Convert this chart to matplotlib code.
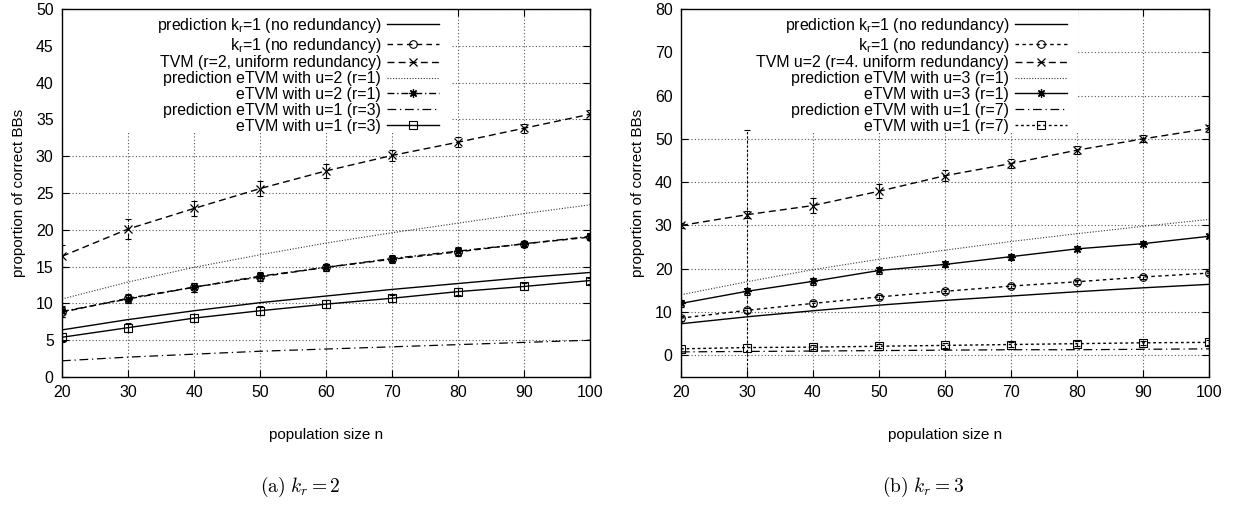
import matplotlib
matplotlib.use("Agg")
import matplotlib.pyplot as plt
from matplotlib.patches import Rectangle

plt.rcParams["font.family"] = ["Liberation Sans", "DejaVu Sans"]
plt.rcParams["mathtext.fontset"] = "custom"
plt.rcParams["mathtext.rm"] = "Liberation Sans"
plt.rcParams["mathtext.it"] = "Liberation Sans:italic"

n = [20, 30, 40, 50, 60, 70, 80, 90, 100]

# (a) k_r = 2
pred_kr1_a = [6.4, 7.8, 9.0, 10.1, 11.0, 11.9, 12.7, 13.5, 14.2]
kr1_a = [8.8, 10.7, 12.2, 13.6, 14.9, 16.0, 17.0, 18.1, 19.0]
kr1_a_err = [0.7, 0.6, 0.6, 0.5, 0.5, 0.5, 0.5, 0.4, 0.4]
tvm_a = [16.4, 20.1, 22.9, 25.6, 28.0, 30.1, 31.9, 33.8, 35.7]
tvm_a_err = [1.5, 1.3, 1.0, 1.0, 0.9, 0.8, 0.7, 0.6, 0.6]
pred_u2_a = [10.6, 12.9, 14.9, 16.6, 18.2, 19.6, 20.9, 22.2, 23.4]
etvm_u2_a = [8.9, 10.6, 12.2, 13.7, 14.9, 16.1, 17.1, 18.1, 19.1]
etvm_u2_a_err = [0.7, 0.6, 0.6, 0.6, 0.5, 0.5, 0.5, 0.4, 0.4]
pred_u1_a = [2.2, 2.7, 3.1, 3.5, 3.8, 4.1, 4.4, 4.7, 5.0]
etvm_u1_a = [5.4, 6.7, 8.0, 9.0, 9.9, 10.7, 11.6, 12.3, 13.1]
etvm_u1_a_err = [0.6, 0.6, 0.5, 0.6, 0.5, 0.5, 0.5, 0.5, 0.4]

# (b) k_r = 3
pred_kr1_b = [7.3, 8.9, 10.3, 11.6, 12.7, 13.7, 14.7, 15.6, 16.4]
kr1_b = [8.6, 10.4, 12.0, 13.5, 14.8, 16.0, 17.0, 18.1, 19.0]
kr1_b_err = [0.6, 0.6, 0.6, 0.5, 0.5, 0.5, 0.5, 0.4, 0.4]
tvm_b = [30.0, 32.5, 34.6, 37.9, 41.5, 44.3, 47.4, 50.0, 52.4]
tvm_b_err = [0.5, 0.8, 1.8, 1.6, 1.2, 1.0, 0.9, 0.8, 0.8]
pred_u3_b = [14.0, 17.0, 19.8, 22.2, 24.3, 26.3, 28.1, 29.8, 31.4]
etvm_u3_b = [12.0, 14.8, 17.1, 19.6, 21.0, 22.8, 24.6, 25.8, 27.5]
etvm_u3_b_err = [0.9, 0.8, 0.8, 0.7, 0.7, 0.7, 0.6, 0.5, 0.5]
pred_u1_b = [0.8, 0.9, 1.0, 1.1, 1.2, 1.3, 1.3, 1.4, 1.5]
etvm_u1_b = [1.5, 1.8, 1.9, 2.1, 2.3, 2.5, 2.7, 2.9, 3.0]
etvm_u1_b_err = [48.5, 50.3, 0.5, 0.5, 0.5, 0.5, 0.5, 0.5, 0.5]

labels_a = [
    r"prediction k$_\mathrm{r}$=1 (no redundancy)",
    r"k$_\mathrm{r}$=1 (no redundancy)",
    "TVM (r=2, uniform redundancy)",
    "prediction eTVM with u=2 (r=1)",
    "eTVM with u=2 (r=1)",
    "prediction eTVM with u=1 (r=3)",
    "eTVM with u=1 (r=3)",
]
labels_b = [
    r"prediction k$_\mathrm{r}$=1 (no redundancy)",
    r"k$_\mathrm{r}$=1 (no redundancy)",
    "TVM u=2 (r=4. uniform redundancy)",
    "prediction eTVM with u=3 (r=1)",
    "eTVM with u=3 (r=1)",
    "prediction eTVM with u=1 (r=7)",
    "eTVM with u=1 (r=7)",
]

ASTER = (8, 2, 0)


def with_err(ax, y, err, ls, label, **mk):
    line, = ax.plot(n, y, color="black", lw=1.0, linestyle=ls, label=label, **mk)
    eb = ax.errorbar(n, y, yerr=err, fmt="none", ecolor="black", elinewidth=0.8,
                     capsize=2.5, capthick=0.8)
    for bl in eb[2]:
        bl.set_linestyle(ls)
    return line


def draw_panel(ax, series, labels, styles, ylim, yticks, legend_right, box_right):
    (pred_kr1, kr1, kr1_err, tvm, tvm_err, pred_mid, etvm_mid, etvm_mid_err,
     pred_low, etvm_low, etvm_low_err) = series
    h = []
    h.append(ax.plot(n, pred_kr1, color="black", lw=1.0, label=labels[0])[0])
    h.append(with_err(ax, kr1, kr1_err, styles[0], labels[1],
                      marker="o", ms=5.5, mfc="none", mew=0.8))
    h.append(with_err(ax, tvm, tvm_err, (0, (5, 3)), labels[2],
                      marker="x", ms=6, mew=0.9))
    h.append(ax.plot(n, pred_mid, color="#333333", lw=0.8, linestyle=(0, (1, 1.5)),
                     label=labels[3])[0])
    h.append(with_err(ax, etvm_mid, etvm_mid_err, styles[1], labels[4],
                      marker=ASTER, ms=6, mew=0.9))
    h.append(ax.plot(n, pred_low, color="black", lw=0.9, linestyle=(0, (7, 3, 1, 3)),
                     label=labels[5])[0])
    h.append(with_err(ax, etvm_low, etvm_low_err, styles[2], labels[6],
                      marker="s", ms=5.5, mfc="none", mew=0.8))

    ax.set_xlim(20, 100)
    ax.set_ylim(*ylim)
    ax.set_xticks(n)
    ax.set_yticks(yticks)
    ax.set_axisbelow(True)
    ax.grid(True, color="#555555", linestyle=(0, (1, 2)), linewidth=0.8)
    ax.tick_params(direction="in", top=True, right=True, length=5, labelsize=11.4, pad=6)
    for s in ax.spines.values():
        s.set_linewidth(1.0)
    ax.set_xlabel("population size n", fontsize=11, labelpad=20)
    ax.set_ylabel("proportion of correct BBs", fontsize=11, labelpad=7)

    # gnuplot key blanks out the grid behind it
    ax.add_patch(Rectangle((0, 0.663), box_right, 0.337, transform=ax.transAxes,
                           facecolor="white", edgecolor="none", zorder=1.5))
    leg = ax.legend(handles=h, loc="upper right", bbox_to_anchor=(legend_right, 0.99),
                    frameon=False, markerfirst=False, fontsize=11.4,
                    handlelength=3.3, handletextpad=0.35, labelspacing=0.05,
                    borderpad=0.2, borderaxespad=0)
    for vp in leg._legend_handle_box.get_children():
        vp.align = "right"


fig = plt.figure(figsize=(12.36, 5.15), dpi=100)
ax_a = fig.add_axes([62 / 1236, 138 / 515, 528 / 1236, 368 / 515])
ax_b = fig.add_axes([681 / 1236, 138 / 515, 528 / 1236, 368 / 515])

draw_panel(ax_a,
           (pred_kr1_a, kr1_a, kr1_a_err, tvm_a, tvm_a_err, pred_u2_a, etvm_u2_a,
            etvm_u2_a_err, pred_u1_a, etvm_u1_a, etvm_u1_a_err),
           labels_a, [(0, (4, 3)), (0, (5, 2, 1, 2)), "-"],
           (0, 50), range(0, 51, 5), 0.72, 0.739)
draw_panel(ax_b,
           (pred_kr1_b, kr1_b, kr1_b_err, tvm_b, tvm_b_err, pred_u3_b, etvm_u3_b,
            etvm_u3_b_err, pred_u1_b, etvm_u1_b, etvm_u1_b_err),
           labels_b, [(0, (2.5, 2.5)), "-", (0, (2, 2))],
           (-5, 80), range(0, 81, 10), 0.737, 0.752)

fig.text(0.243, 0.045, r"$\mathrm{(a)}\ k_r = 2$", fontsize=14, ha="center",
         math_fontfamily="cm")
fig.text(0.747, 0.045, r"$\mathrm{(b)}\ k_r = 3$", fontsize=14, ha="center",
         math_fontfamily="cm")

fig.savefig("out.png", dpi=100)
plt.close(fig)
